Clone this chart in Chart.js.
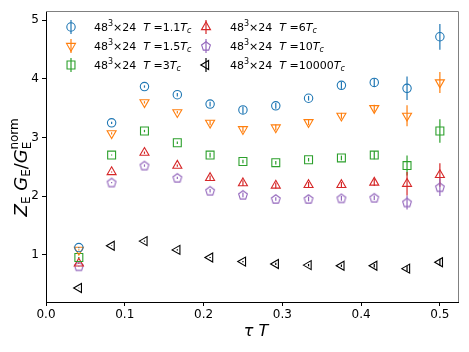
<!DOCTYPE html>
<html lang="en">
<head>
<meta charset="UTF-8">
<title>Z_E G_E / G_E^norm vs tau T</title>
<script src="https://cdn.jsdelivr.net/npm/chart.js"></script>
<style>
    body { margin: 0; background: #fff; }
    #wrap { width: 469px; height: 352px; }
</style>
</head>
<body>
<div id="wrap"><canvas id="chart" width="469" height="352"></canvas></div>
<script>
// tau*T positions (Nt = 24)
const tauT = [0.0417, 0.0833, 0.125, 0.1667, 0.2083, 0.25, 0.2917, 0.3333, 0.375, 0.4167, 0.4583, 0.5];

const xTicks = [0.0, 0.1, 0.2, 0.3, 0.4, 0.5];
const yTicks = [1, 2, 3, 4, 5];

const tempLabels = ['1.1', '1.5', '3', '6', '10', '10000'];

const g11 = [1.12, 3.25, 3.87, 3.73, 3.57, 3.47, 3.54, 3.67, 3.89, 3.94, 3.84, 4.72];
const g11Err = [0.01, 0.02, 0.02, 0.03, 0.04, 0.06, 0.05, 0.04, 0.06, 0.07, 0.20, 0.22];
const g15 = [1.08, 3.07, 3.60, 3.43, 3.25, 3.14, 3.17, 3.26, 3.37, 3.50, 3.37, 3.94];
const g15Err = [0.01, 0.02, 0.02, 0.02, 0.04, 0.05, 0.05, 0.05, 0.05, 0.06, 0.18, 0.18];
const g3 = [0.95, 2.70, 3.11, 2.91, 2.70, 2.59, 2.57, 2.62, 2.65, 2.70, 2.52, 3.11];
const g3Err = [0.01, 0.01, 0.02, 0.02, 0.04, 0.03, 0.03, 0.03, 0.04, 0.07, 0.17, 0.20];
const g6 = [0.85, 2.41, 2.74, 2.52, 2.31, 2.22, 2.18, 2.19, 2.19, 2.23, 2.21, 2.36];
const g6Err = [0.01, 0.01, 0.02, 0.02, 0.04, 0.05, 0.05, 0.05, 0.05, 0.06, 0.20, 0.20];
const g10 = [0.80, 2.23, 2.52, 2.31, 2.09, 2.02, 1.95, 1.95, 1.96, 1.97, 1.89, 2.15];
const g10Err = [0.01, 0.01, 0.02, 0.02, 0.03, 0.04, 0.03, 0.04, 0.04, 0.04, 0.12, 0.15];
const g10000 = [0.43, 1.15, 1.23, 1.08, 0.95, 0.88, 0.84, 0.82, 0.81, 0.81, 0.76, 0.87];
const g10000Err = [0.005, 0.005, 0.01, 0.01, 0.01, 0.01, 0.02, 0.02, 0.02, 0.03, 0.05, 0.06];

const colors = ['#1f77b4', '#ff7f0e', '#2ca02c', '#d62728', '#9467bd', '#000000'];

// pentagon marker, chart.js has none
function pentagon(color) {
    const c = document.createElement('canvas');
    c.width = 12; c.height = 12;
    const p = c.getContext('2d');
    p.strokeStyle = color;
    p.lineWidth = 1.1;
    p.beginPath();
    for (let i = 0; i < 5; i++) {
        const a = -Math.PI / 2 + i * 2 * Math.PI / 5;
        const px = 6 + 4.6 * Math.cos(a), py = 6.4 + 4.6 * Math.sin(a);
        if (i === 0) p.moveTo(px, py); else p.lineTo(px, py);
    }
    p.closePath();
    p.stroke();
    return c;
}

const series = [
    { y: g11, err: g11Err, style: 'circle', rot: 0, r: 4.2 },
    { y: g15, err: g15Err, style: 'triangle', rot: 180, r: 5.2 },
    { y: g3, err: g3Err, style: 'rect', rot: 0, r: 5.6 },
    { y: g6, err: g6Err, style: 'triangle', rot: 0, r: 5.2 },
    { y: g10, err: g10Err, style: pentagon(colors[4]), rot: 0, r: 5 },
    { y: g10000, err: g10000Err, style: 'triangle', rot: -90, r: 5.2 }
];

const datasets = series.map((s, i) => ({
    label: tempLabels[i],
    data: tauT.map((x, j) => ({ x: x, y: s.y[j] })),
    errors: s.err,
    showLine: false,
    pointStyle: s.style,
    rotation: s.rot,
    pointRadius: s.r,
    pointBorderWidth: 1.1,
    borderColor: colors[i],
    backgroundColor: 'rgba(0,0,0,0)',
    pointBackgroundColor: 'rgba(0,0,0,0)'
}));

// draw a row of text pieces (sizes, italics, baseline shifts)
function runWidth(ctx, runs) {
    let w = 0;
    runs.forEach(r => {
        ctx.font = (r.it ? 'italic ' : '') + r.size + 'px "DejaVu Sans"';
        w += ctx.measureText(r.t).width;
    });
    return w;
}
function drawRuns(ctx, runs, x, y) {
    ctx.textBaseline = 'alphabetic';
    ctx.textAlign = 'left';
    runs.forEach(r => {
        ctx.font = (r.it ? 'italic ' : '') + r.size + 'px "DejaVu Sans"';
        ctx.fillText(r.t, x, y + (r.dy || 0));
        x += ctx.measureText(r.t).width;
    });
}

const errorBars = {
    id: 'errorBars',
    afterDatasetsDraw(chart) {
        const ctx = chart.ctx, ys = chart.scales.y, xs = chart.scales.x;
        ctx.save();
        ctx.lineWidth = 1.2;
        chart.data.datasets.forEach(ds => {
            ctx.strokeStyle = ds.borderColor;
            ds.data.forEach((p, j) => {
                const e = ds.errors[j];
                const px = xs.getPixelForValue(p.x);
                ctx.beginPath();
                ctx.moveTo(px, ys.getPixelForValue(p.y - e));
                ctx.lineTo(px, ys.getPixelForValue(p.y + e));
                ctx.stroke();
            });
        });
        ctx.restore();
    }
};

const frameAndText = {
    id: 'frameAndText',
    afterDraw(chart) {
        const ctx = chart.ctx, a = chart.chartArea;
        ctx.save();
        // top and right spines
        ctx.strokeStyle = '#808080';
        ctx.lineWidth = 1;
        ctx.beginPath();
        ctx.moveTo(a.left, a.top + 0.5);
        ctx.lineTo(a.right + 0.5, a.top + 0.5);
        ctx.lineTo(a.right + 0.5, a.bottom);
        ctx.stroke();

        ctx.fillStyle = '#000';
        // x axis title
        const xt = [{ t: '\u03c4', size: 16, it: true }, { t: ' T', size: 16, it: true }];
        drawRuns(ctx, xt, (a.left + a.right) / 2 - runWidth(ctx, xt) / 2 + 4, 336);

        // y axis title
        const yt = [
            { t: 'Z', size: 18, it: true }, { t: 'E', size: 12, dy: 3 },
            { t: ' G', size: 18, it: true }, { t: 'E', size: 12, dy: 3 },
            { t: '/', size: 18 },
            { t: 'G', size: 18, it: true }, { t: 'E', size: 12, dy: 4 }
        ];
        ctx.save();
        ctx.translate(27, 171);
        ctx.rotate(-Math.PI / 2);
        const base = runWidth(ctx, yt);
        const w = base + 16;
        drawRuns(ctx, yt, -w / 2, 0);
        ctx.font = '12px "DejaVu Sans"';
        ctx.fillText('norm', -w / 2 + base - 8, -9);
        ctx.restore();

        // legend, two columns
        const rowsY = [27, 46, 65];
        chart.data.datasets.forEach((ds, i) => {
            const col = Math.floor(i / 3), row = i % 3;
            const mx = col === 0 ? 71 : 206;
            const my = rowsY[row];
            const s = series[i];
            ctx.strokeStyle = colors[i];
            ctx.fillStyle = 'rgba(0,0,0,0)';
            ctx.lineWidth = 1.2;
            ctx.beginPath();
            ctx.moveTo(mx, my - 7);
            ctx.lineTo(mx, my + 7);
            ctx.stroke();
            ctx.lineWidth = 1.1;
            Chart.helpers.drawPoint(ctx, { pointStyle: s.style, rotation: s.rot, radius: s.r, borderWidth: 1.1 }, mx, my);
            ctx.fillStyle = '#000';
            const tx = col === 0 ? 94 : 230;
            drawRuns(ctx, [
                { t: '48', size: 11 }, { t: '3', size: 8, dy: -5 }, { t: '\u00d724  ', size: 11 },
                { t: 'T', size: 11, it: true }, { t: ' =' + ds.label, size: 11 },
                { t: 'T', size: 11, it: true }, { t: 'c', size: 8, it: true, dy: 2 }
            ], tx, my + 4);
        });
        ctx.restore();
    }
};

new Chart(document.getElementById('chart'), {
    type: 'scatter',
    data: { datasets: datasets },
    plugins: [errorBars, frameAndText],
    options: {
        responsive: false,
        animation: false,
        layout: { padding: { top: 11, right: 11, left: 0, bottom: 0 } },
        plugins: { legend: { display: false }, tooltip: { enabled: false } },
        scales: {
            x: {
                type: 'linear',
                min: 0,
                max: 0.523,
                afterBuildTicks: s => { s.ticks = xTicks.map(v => ({ value: v })); },
                afterFit: s => { s.height = 50; },
                grid: { drawOnChartArea: false, tickLength: 4, tickColor: '#000' },
                border: { color: '#000' },
                ticks: { color: '#000', padding: 2, font: { family: 'DejaVu Sans', size: 12 }, callback: v => v.toFixed(1) }
            },
            y: {
                min: 0.19,
                max: 5.16,
                afterBuildTicks: s => { s.ticks = yTicks.map(v => ({ value: v })); },
                afterFit: s => { s.width = 46; },
                grid: { drawOnChartArea: false, tickLength: 4, tickColor: '#000' },
                border: { color: '#000' },
                ticks: { color: '#000', padding: 3, font: { family: 'DejaVu Sans', size: 12 } }
            }
        }
    }
});
</script>
</body>
</html>
